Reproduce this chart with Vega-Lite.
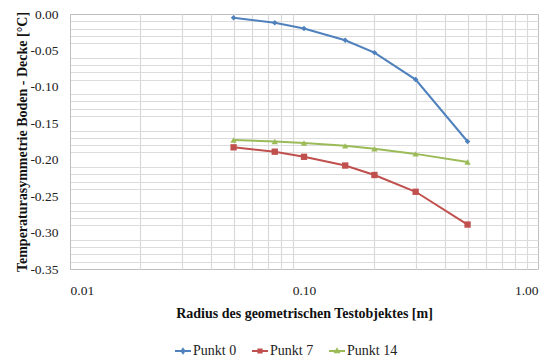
{
  "$schema": "https://vega.github.io/schema/vega-lite/v6.json",
  "width": 468,
  "height": 255,
  "autosize": {"type": "none"},
  "padding": {"left": 70, "top": 14, "right": 11, "bottom": 91},
  "config": {
    "font": "Liberation Serif, Times New Roman, serif",
    "view": {"stroke": "#bfbfbf", "strokeWidth": 1},
    "axis": {"labelFont": "Liberation Serif, Times New Roman, serif", "titleFont": "Liberation Serif, Times New Roman, serif", "labelColor": "#222222", "titleColor": "#111111"},
    "legend": {"labelFont": "Liberation Serif, Times New Roman, serif"}
  },
  "data": {
    "values": [
      {"r": 0.05, "t": -0.005, "s": "Punkt 0"},
      {"r": 0.075, "t": -0.012, "s": "Punkt 0"},
      {"r": 0.1, "t": -0.020, "s": "Punkt 0"},
      {"r": 0.15, "t": -0.036, "s": "Punkt 0"},
      {"r": 0.2, "t": -0.053, "s": "Punkt 0"},
      {"r": 0.3, "t": -0.090, "s": "Punkt 0"},
      {"r": 0.5, "t": -0.175, "s": "Punkt 0"},
      {"r": 0.05, "t": -0.183, "s": "Punkt 7"},
      {"r": 0.075, "t": -0.189, "s": "Punkt 7"},
      {"r": 0.1, "t": -0.196, "s": "Punkt 7"},
      {"r": 0.15, "t": -0.208, "s": "Punkt 7"},
      {"r": 0.2, "t": -0.221, "s": "Punkt 7"},
      {"r": 0.3, "t": -0.244, "s": "Punkt 7"},
      {"r": 0.5, "t": -0.289, "s": "Punkt 7"},
      {"r": 0.05, "t": -0.173, "s": "Punkt 14"},
      {"r": 0.075, "t": -0.175, "s": "Punkt 14"},
      {"r": 0.1, "t": -0.177, "s": "Punkt 14"},
      {"r": 0.15, "t": -0.181, "s": "Punkt 14"},
      {"r": 0.2, "t": -0.185, "s": "Punkt 14"},
      {"r": 0.3, "t": -0.192, "s": "Punkt 14"},
      {"r": 0.5, "t": -0.203, "s": "Punkt 14"}
    ]
  },
  "encoding": {
    "x": {"field": "r", "type": "quantitative", "scale": {"type": "log", "domain": [0.01, 1], "nice": false}},
    "y": {"field": "t", "type": "quantitative", "scale": {"domain": [-0.35, 0], "nice": false, "zero": false}},
    "color": {
      "field": "s",
      "type": "nominal",
      "scale": {"domain": ["Punkt 0", "Punkt 7", "Punkt 14"], "range": ["#4F81BD", "#C0504D", "#9BBB59"]},
      "legend": {
        "title": null,
        "orient": "none",
        "direction": "horizontal",
        "legendX": 104,
        "legendY": 328,
        "labelFont": "Liberation Serif, Times New Roman, serif",
        "labelFontSize": 14,
        "labelColor": "#222222",
        "symbolSize": 256,
        "symbolStrokeWidth": 2,
        "labelOffset": 1,
        "columnPadding": 11,
        "encode": {
          "symbols": {
            "update": {
              "shape": {"signal": "datum.value === 'Punkt 0' ? 'M-1,0H1M0,-0.25L0.18,0L0,0.25L-0.18,0Z' : datum.value === 'Punkt 7' ? 'M-1,0H1M-0.2,-0.2H0.2V0.2H-0.2Z' : 'M-1,0H1M0,-0.22L0.22,0.16H-0.22Z'"},
              "stroke": {"signal": "scale('color', datum.value)"},
              "fill": {"signal": "scale('color', datum.value)"},
              "strokeWidth": {"value": 2},
              "opacity": {"value": 1}
            }
          }
        }
      }
    }
  },
  "layer": [
    {
      "mark": {"type": "line", "strokeWidth": 2},
      "encoding": {
        "x": {
          "field": "r", "type": "quantitative",
          "axis": {"orient": "bottom", "values": [0.02, 0.03, 0.04, 0.05, 0.06, 0.07, 0.08, 0.09, 0.2, 0.3, 0.4, 0.5, 0.6, 0.7, 0.8, 0.9], "labels": false, "ticks": false, "domain": false, "title": null, "gridColor": "#d9d9d9", "gridWidth": 1.2}
        },
        "y": {
          "field": "t", "type": "quantitative",
          "axis": {"orient": "left", "values": [-0.34, -0.33, -0.32, -0.31, -0.29, -0.28, -0.27, -0.26, -0.24, -0.23, -0.22, -0.21, -0.19, -0.18, -0.17, -0.16, -0.14, -0.13, -0.12, -0.11, -0.09, -0.08, -0.07, -0.06, -0.04, -0.03, -0.02, -0.01], "labels": false, "ticks": false, "domain": false, "title": null, "gridColor": "#dcdcdc", "gridWidth": 1}
        }
      }
    },
    {
      "transform": [{"filter": "datum.s === 'Punkt 0'"}],
      "mark": {"type": "point", "filled": true, "opacity": 1, "size": 30, "shape": "diamond"},
      "encoding": {
        "x": {
          "field": "r", "type": "quantitative",
          "axis": {"orient": "bottom", "values": [0.01, 0.1, 1], "format": ".2f", "ticks": false, "domain": false, "gridColor": "#909090", "gridWidth": 1, "labelFont": "Liberation Serif, Times New Roman, serif", "labelFontSize": 13.5, "labelPadding": 14, "title": "Radius des geometrischen Testobjektes [m]", "titleFont": "Liberation Serif, Times New Roman, serif", "titleFontSize": 14, "titleFontWeight": "bold", "titlePadding": 10}
        },
        "y": {
          "field": "t", "type": "quantitative",
          "axis": {"orient": "left", "values": [-0.35, -0.3, -0.25, -0.2, -0.15, -0.1, -0.05, 0], "labelExpr": "replace(format(datum.value, '.2f'), '\u2212', '-')", "ticks": false, "domain": true, "domainColor": "#bfbfbf", "gridColor": "#b4b4b4", "gridWidth": 1, "labelFont": "Liberation Serif, Times New Roman, serif", "labelFontSize": 13.5, "labelPadding": 12, "title": "Temperaturasymmetrie Boden - Decke [°C]", "titleFont": "Liberation Serif, Times New Roman, serif", "titleFontSize": 14, "titleFontWeight": "bold", "titlePadding": 0}
        }
      }
    },
    {
      "transform": [{"filter": "datum.s === 'Punkt 7'"}],
      "mark": {"type": "point", "filled": true, "opacity": 1, "size": 40, "shape": "square"},
      "encoding": {
        "x": {"field": "r", "type": "quantitative", "axis": null},
        "y": {"field": "t", "type": "quantitative", "axis": null}
      }
    },
    {
      "transform": [{"filter": "datum.s === 'Punkt 14'"}],
      "mark": {"type": "point", "filled": true, "opacity": 1, "size": 40, "shape": "triangle-up"},
      "encoding": {
        "x": {"field": "r", "type": "quantitative", "axis": null},
        "y": {"field": "t", "type": "quantitative", "axis": null}
      }
    }
  ],
  "resolve": {"axis": {"x": "independent", "y": "independent"}}
}
